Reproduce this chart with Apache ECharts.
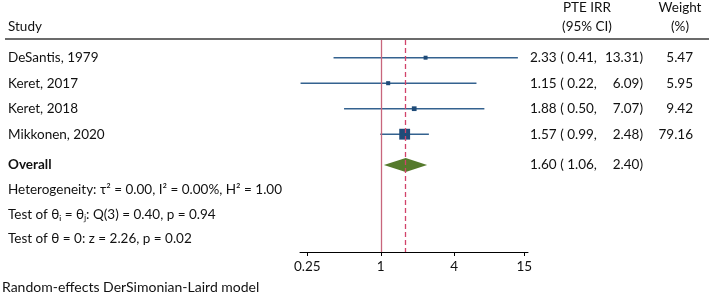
<!DOCTYPE html>
<html>
<head>
<meta charset="utf-8">
<script src="https://cdn.jsdelivr.net/npm/echarts@6/dist/echarts.min.js"></script>
<style>
  html, body { margin: 0; padding: 0; background: #fff; }
  #chart { width: 709px; height: 299px; }
</style>
</head>
<body>
<div id="chart"></div>
<script>
const studies = ["DeSantis, 1979", "Keret, 2017", "Keret, 2018", "Mikkonen, 2020"];
const est = [2.33, 1.15, 1.88, 1.57];
const lower = [0.41, 0.22, 0.5, 0.99];
const upper = [13.31, 6.09, 7.07, 2.48];
const weights = [5.47, 5.95, 9.42, 79.16];
const overall = [1.6, 1.06, 2.4]; // est, lower, upper
const xTicks = [0.25, 1, 4, 15];
const footLines = [
  "Heterogeneity: τ² = 0.00, I² = 0.00%, H² = 1.00",
  "Test of θᵢ = θⱼ: Q(3) = 0.40, p = 0.94",
  "Test of θ = 0: z = 2.26, p = 0.02",
];

// row positions on the y axis (layout)
const studyRows = [1, 2, 3, 4];
const overallRow = 5.21;
const footRows = [6.19, 7.17, 8.11];

const FONT = "Lato";
const TXT = "#111";
const log2 = (v) => Math.log(v) / Math.LN2;
const f2 = (v) => v.toFixed(2);

const leftRows = studyRows.concat([overallRow], footRows);
const leftText = studies.concat(["{b|Overall}"], footLines);
const rightRows = studyRows.concat([overallRow]);
const rightText = studies.map(
  (s, i) =>
    "{e|" + f2(est[i]) + " ( " + f2(lower[i]) + ",}{h|" + f2(upper[i]) + ")}{w|" + f2(weights[i]) + "}"
);
rightText.push("{e|" + f2(overall[0]) + " ( " + f2(overall[1]) + ",}{h|" + f2(overall[2]) + ")}{w|}");

function lookup(rows, texts, v) {
  for (let i = 0; i < rows.length; i++) {
    if (Math.abs(rows[i] - v) < 1e-6) return texts[i];
  }
  return "";
}

const studyData = studies.map((s, i) => [
  log2(lower[i]),
  log2(upper[i]),
  log2(est[i]),
  studyRows[i],
  weights[i],
]);

const option = {
  animation: false,
  textStyle: { fontFamily: FONT },
  grid: { left: 300, right: 181, top: 40, bottom: 47 },
  xAxis: {
    type: "value",
    min: -2.2,
    max: 4.01,
    axisLine: { show: true, lineStyle: { color: "#000", width: 1 } },
    axisTick: {
      show: true,
      length: 4,
      customValues: xTicks.map(log2),
      lineStyle: { color: "#000" },
    },
    axisLabel: {
      customValues: xTicks.map(log2),
      margin: 8,
      fontFamily: FONT,
      fontSize: 13.5,
      color: TXT,
      formatter: (v) => lookup(xTicks.map(log2), xTicks.map(String), v),
    },
    splitLine: { show: false },
  },
  yAxis: [
    {
      type: "value",
      inverse: true,
      min: 0.306,
      max: 8.62,
      axisLine: { show: false },
      axisTick: { show: false },
      splitLine: { show: false },
      axisLabel: {
        customValues: leftRows,
        margin: 292,
        align: "left",
        fontFamily: FONT,
        fontSize: 13.5,
        color: TXT,
        formatter: (v) => lookup(leftRows, leftText, v),
        rich: {
          b: { fontFamily: FONT, fontSize: 13.5, fontWeight: "bold", color: TXT },
        },
      },
    },
    {
      type: "value",
      position: "right",
      inverse: true,
      min: 0.306,
      max: 8.62,
      axisLine: { show: false },
      axisTick: { show: false },
      splitLine: { show: false },
      axisLabel: {
        customValues: rightRows,
        margin: 2,
        align: "left",
        fontFamily: FONT,
        fontSize: 13.5,
        color: TXT,
        formatter: (v) => lookup(rightRows, rightText, v),
        rich: {
          e: { width: 80, align: "left", fontFamily: FONT, fontSize: 13.5, color: TXT },
          h: { width: 33, align: "right", fontFamily: FONT, fontSize: 13.5, color: TXT },
          w: { width: 50, align: "right", fontFamily: FONT, fontSize: 13.5, color: TXT },
        },
      },
    },
  ],
  series: [
    {
      type: "custom",
      name: "studies",
      silent: true,
      data: studyData,
      renderItem: function (params, api) {
        const a = api.coord([api.value(0), api.value(3)]);
        const b = api.coord([api.value(1), api.value(3)]);
        const c = api.coord([api.value(2), api.value(3)]);
        const s = Math.sqrt(api.value(4)) * 1.05 + 1.5;
        return {
          type: "group",
          children: [
            {
              type: "line",
              shape: { x1: a[0], y1: a[1], x2: b[0], y2: b[1] },
              style: { stroke: "#34628f", lineWidth: 1.5 },
            },
            {
              type: "rect",
              shape: { x: c[0] - s / 2, y: c[1] - s / 2, width: s, height: s },
              style: { fill: "#1f4b78" },
            },
          ],
        };
      },
      markLine: {
        silent: true,
        symbol: "none",
        label: { show: false },
        lineStyle: { color: "#c8667c", type: "solid", width: 1.3 },
        data: [{ xAxis: log2(1) }],
      },
      z: 3,
    },
    {
      type: "custom",
      name: "overall",
      silent: true,
      data: [[log2(overall[1]), log2(overall[2]), log2(overall[0]), overallRow]],
      renderItem: function (params, api) {
        const a = api.coord([api.value(0), api.value(3)]);
        const b = api.coord([api.value(1), api.value(3)]);
        const c = api.coord([api.value(2), api.value(3)]);
        const h = 7;
        return {
          type: "polygon",
          shape: { points: [a, [c[0], c[1] - h], b, [c[0], c[1] + h]] },
          style: { fill: "#557a2c" },
        };
      },
      markLine: {
        silent: true,
        symbol: "none",
        label: { show: false },
        lineStyle: { color: "#d2436a", type: [5, 3], width: 1.3 },
        data: [{ xAxis: log2(overall[0]) }],
      },
      z: 2,
    },
  ],
  graphic: [
    {
      type: "text",
      left: 8,
      top: 20,
      style: { text: "Study", font: "13.5px " + FONT, fill: TXT },
    },
    {
      type: "text",
      x: 587,
      y: 8,
      style: { text: "PTE IRR", font: "13.5px " + FONT, fill: TXT, align: "center", verticalAlign: "middle" },
    },
    {
      type: "text",
      x: 587,
      y: 27,
      style: { text: "(95% CI)", font: "13.5px " + FONT, fill: TXT, align: "center", verticalAlign: "middle" },
    },
    {
      type: "text",
      x: 680,
      y: 8,
      style: { text: "Weight", font: "13.5px " + FONT, fill: TXT, align: "center", verticalAlign: "middle" },
    },
    {
      type: "text",
      x: 680,
      y: 27,
      style: { text: "(%)", font: "13.5px " + FONT, fill: TXT, align: "center", verticalAlign: "middle" },
    },
    {
      type: "line",
      shape: { x1: 5, y1: 39, x2: 709, y2: 39 },
      style: { stroke: "#3a3a3a", lineWidth: 1.5 },
    },
    {
      type: "text",
      x: 2,
      y: 287,
      style: {
        text: "Random-effects DerSimonian-Laird model",
        font: "14px " + FONT,
        fill: TXT,
        verticalAlign: "middle",
      },
    },
  ],
};

const chart = echarts.init(document.getElementById("chart"));
chart.setOption(option);
</script>
</body>
</html>
